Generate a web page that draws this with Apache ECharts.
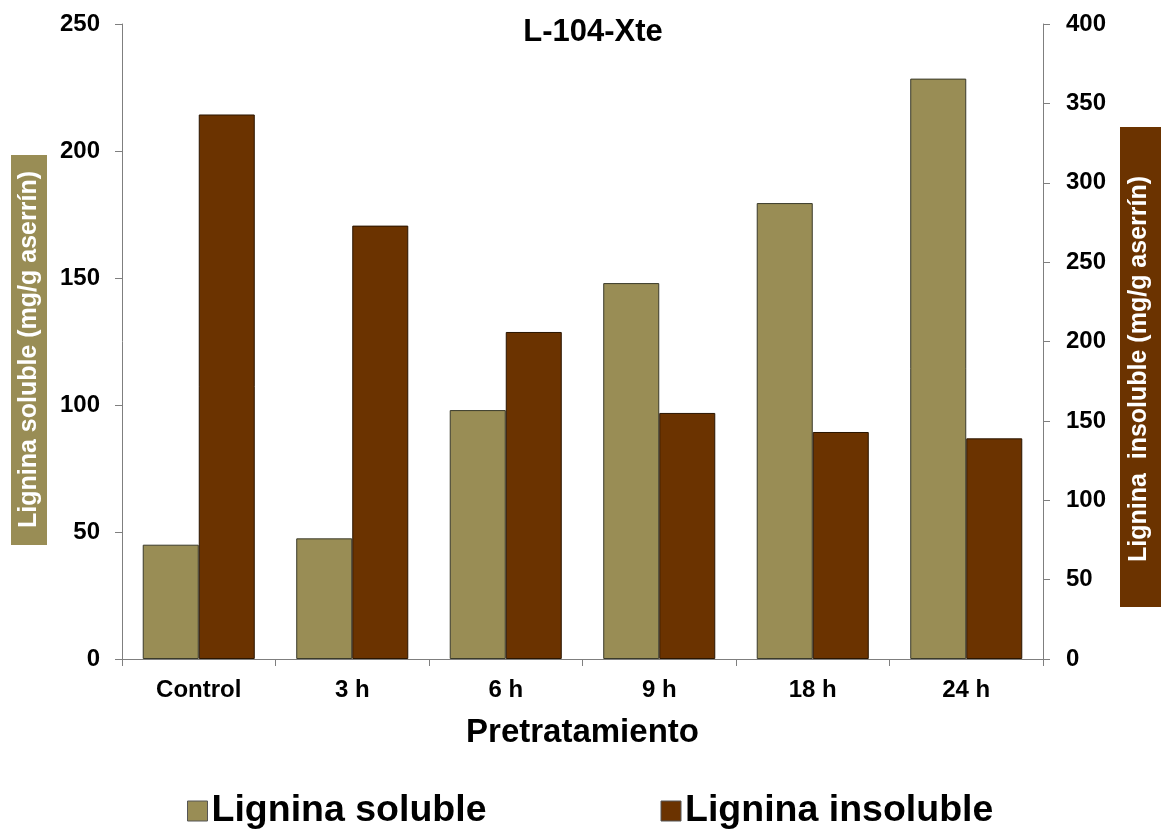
<!DOCTYPE html>
<html>
<head>
<meta charset="utf-8">
<script src="https://cdn.jsdelivr.net/npm/echarts@6/dist/echarts.min.js"></script>
<style>
html,body{margin:0;padding:0;background:#fff;}
#chart{width:1161px;height:829px;}
</style>
</head>
<body>
<div id="chart"></div>
<script>
const categories = ['Control', '3 h', '6 h', '9 h', '18 h', '24 h'];
const ligninaSoluble = [45, 47.5, 98, 148, 179.5, 228.5];
const ligninaInsoluble = [343, 273, 206, 155, 143, 139];
const leftTicks = { min: 0, max: 250, interval: 50 };
const rightTicks = { min: 0, max: 400, interval: 50 };

const FONT = 'Liberation Sans, Arial, sans-serif';
const OLIVE = '#998D55';
const BROWN = '#6B3300';
const AXIS = '#7F7F7F';

const chart = echarts.init(document.getElementById('chart'));
chart.setOption({
  backgroundColor: '#fff',
  animation: false,
  title: {
    text: 'L-104-Xte',
    left: 588, top: 12, textAlign: 'center',
    textStyle: { fontFamily: FONT, fontWeight: 'bold', fontSize: 31, color: '#000' }
  },
  legend: {
    left: 182, top: 787,
    itemWidth: 20, itemHeight: 20, itemGap: 174,
    icon: 'rect',
    itemStyle: { borderColor: '#555', borderWidth: 1 },
    textStyle: { fontFamily: FONT, fontWeight: 'bold', fontSize: 37.5, color: '#000', padding: [0, 0, 0, -1] },
    data: ['Lignina soluble', 'Lignina insoluble']
  },
  grid: { left: 122, right: 118, top: 24, bottom: 170, containLabel: false, outerBoundsMode: 'none' },
  xAxis: {
    type: 'category',
    data: categories,
    name: 'Pretratamiento',
    nameLocation: 'middle',
    nameGap: 57,
    nameTextStyle: { fontFamily: FONT, fontWeight: 'bold', fontSize: 33, color: '#000' },
    axisLine: { lineStyle: { color: AXIS, width: 1 } },
    axisTick: { show: true, alignWithLabel: false, length: 7, lineStyle: { color: AXIS } },
    axisLabel: { fontFamily: FONT, fontWeight: 'bold', fontSize: 24, color: '#000', margin: 19 }
  },
  yAxis: [
    {
      type: 'value',
      min: leftTicks.min, max: leftTicks.max, interval: leftTicks.interval,
      name: '{b|Lignina soluble (mg/g aserrín)}{s| }',
      nameLocation: 'middle',
      nameRotate: 90,
      nameGap: 75,
      nameTextStyle: {
        rich: {
          b: { fontFamily: FONT, fontWeight: 'bold', fontSize: 25, color: '#fff',
               backgroundColor: OLIVE, padding: [6, 16, 5, 17] },
          s: { width: 17 }
        }
      },
      splitLine: { show: false },
      axisLine: { show: true, lineStyle: { color: AXIS, width: 1 } },
      axisTick: { show: true, length: 7, lineStyle: { color: AXIS } },
      axisLabel: { fontFamily: FONT, fontWeight: 'bold', fontSize: 24, color: '#000', margin: 22 }
    },
    {
      type: 'value',
      position: 'right',
      min: rightTicks.min, max: rightTicks.max, interval: rightTicks.interval,
      name: '{b|Lignina  insoluble (mg/g aserrín)}{s| }',
      nameLocation: 'middle',
      nameRotate: 90,
      nameGap: 77,
      nameTextStyle: {
        rich: {
          b: { fontFamily: FONT, fontWeight: 'bold', fontSize: 25, color: '#fff',
               backgroundColor: BROWN, padding: [7, 49, 10, 45] },
          s: { width: 51 }
        }
      },
      splitLine: { show: false },
      axisLine: { show: true, lineStyle: { color: AXIS, width: 1 } },
      axisTick: { show: true, length: 7, lineStyle: { color: AXIS } },
      axisLabel: { fontFamily: FONT, fontWeight: 'bold', fontSize: 24, color: '#000', margin: 23 }
    }
  ],
  series: [
    {
      name: 'Lignina soluble',
      type: 'bar',
      yAxisIndex: 0,
      data: ligninaSoluble,
      barGap: '0%',
      barCategoryGap: '27%',
      itemStyle: { color: OLIVE, borderColor: '#3a3a2a', borderWidth: 1 }
    },
    {
      name: 'Lignina insoluble',
      type: 'bar',
      yAxisIndex: 1,
      data: ligninaInsoluble,
      barGap: '0%',
      barCategoryGap: '27%',
      itemStyle: { color: BROWN, borderColor: '#2a1500', borderWidth: 1 }
    }
  ]
});
</script>
</body>
</html>
